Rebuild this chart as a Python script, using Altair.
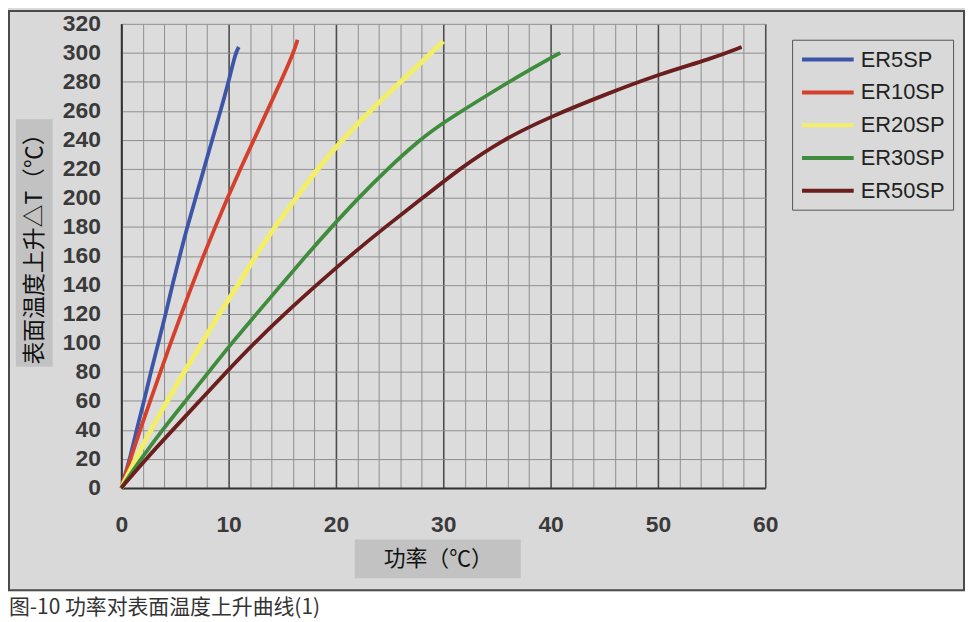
import altair as alt
import pandas as pd

# ---- data ----
series_names = ["ER5SP", "ER10SP", "ER20SP", "ER30SP", "ER50SP"]
series_colors = ["#3c55a8", "#d5402c", "#f2ee6a", "#3f8c3c", "#6b1e1e"]
series_widths = [3.8, 3.8, 5.0, 3.8, 3.8]

er5_x = [0, 0.8, 1.42, 2.13, 2.75, 3.46, 4.14, 4.76, 5.45, 6.15, 6.93, 7.7, 8.47, 9.25, 10.0, 10.64, 10.95]
er5_y = [0, 20, 40, 60, 80, 100, 120, 140, 160, 180, 200, 220, 240, 260, 280, 300, 304]

er10_x = [0, 0.85, 1.75, 2.7, 3.65, 4.6, 5.6, 6.6, 7.65, 8.75, 9.9, 11.1, 12.35, 13.6, 14.85, 16.05, 16.42]
er10_y = [0, 20, 40, 60, 80, 100, 120, 140, 160, 180, 200, 220, 240, 260, 280, 300, 309]

er20_x = [0, 1.36, 2.75, 4.3, 5.84, 7.54, 9.1, 10.9, 12.5, 14.3, 16.3, 18.4, 20.0, 22.5, 25.0, 27.5, 30.0]
er20_y = [0, 20, 40, 60, 80, 100, 120, 140, 160, 180, 200, 221, 235, 255, 273, 290, 308]

er30_x = [0, 1.83, 3.83, 6.0, 8.16, 10.3, 12.6, 14.9, 17.2, 19.6, 22.1, 24.8, 27.8, 30.0, 35.0, 37.5, 40.9]
er30_y = [0, 20, 40, 60, 80, 100, 120, 140, 160, 180, 200, 220, 240, 252, 275, 286, 300]

er50_x = [0, 2.3, 4.8, 7.3, 9.8, 12.4, 15.2, 18.2, 21.3, 24.6, 28.1, 31.5, 35.5, 40.0, 45.0, 50.0, 55.0, 57.8]
er50_y = [0, 20, 40, 60, 80, 100, 120, 140, 160, 180, 200, 220, 240, 256, 271, 285, 296, 304]

x_grid_values = list(range(0, 61, 2))
y_tick_values = list(range(0, 321, 20))

y_title = "表面温度上升△T（℃）"
x_title = "功率（℃）"
caption = "图-10 功率对表面温度上升曲线(1)"

# ---- build table ----
rows = []
for name, w, xs, ys in zip(series_names, series_widths,
                           [er5_x, er10_x, er20_x, er30_x, er50_x],
                           [er5_y, er10_y, er20_y, er30_y, er50_y]):
    for i, (xv, yv) in enumerate(zip(xs, ys)):
        rows.append({"series": name, "power": xv, "rise": yv, "order": i, "sw": w})
df = pd.DataFrame(rows)

W, H = 648, 467
BG = "#d9d9d9"
one = alt.Data(values=[{}])

# white area below the frame (caption strip)
white_strip = alt.Chart(one).mark_rect(fill="white").encode(
    x=alt.value(-120), x2=alt.value(860), y=alt.value(571), y2=alt.value(640)
)
# outer frame border
frame = alt.Chart(one).mark_rect(fillOpacity=0, stroke="#4a4a4a", strokeWidth=2).encode(
    x=alt.value(-113), x2=alt.value(848), y=alt.value(-13), y2=alt.value(570)
)
# axis-title boxes
ybox = alt.Chart(one).mark_rect(fill="#c2c2c2").encode(
    x=alt.value(-106), x2=alt.value(-69), y=alt.value(96), y2=alt.value(345)
)
xbox = alt.Chart(one).mark_rect(fill="#c2c2c2").encode(
    x=alt.value(235), x2=alt.value(402), y=alt.value(519), y2=alt.value(558)
)
ytext = alt.Chart(one).mark_text(
    text=y_title, angle=270, font="Noto Sans CJK SC", fontSize=23, color="#111",
    align="center", baseline="middle"
).encode(x=alt.value(-87), y=alt.value(221))
xtext = alt.Chart(one).mark_text(
    text=x_title, font="Noto Sans CJK SC", fontSize=22, color="#111",
    align="center", baseline="middle"
).encode(x=alt.value(319), y=alt.value(539))
cap = alt.Chart(one).mark_text(
    text=caption, font="Noto Sans CJK SC", fontSize=21, color="#333",
    align="left", baseline="middle"
).encode(x=alt.value(-113), y=alt.value(588))

lines = alt.Chart(df).mark_line(interpolate="basis").encode(
    x=alt.X("power:Q",
            scale=alt.Scale(domain=[0, 60], nice=False, zero=True),
            axis=alt.Axis(
                title=None, values=x_grid_values,
                labelExpr="datum.value % 10 === 0 ? datum.label : ''",
                labelOverlap=False, labelFlush=False, labelBound=False,
                ticks=False, labelPadding=26,
                labelFont="Liberation Sans", labelFontSize=23, labelFontWeight="bold",
                labelColor="#3a3a3a",
                domainColor="#333", domainWidth=2,
                grid=True,
                gridColor=alt.condition("datum.value % 10 === 0", alt.value("#4d4d4d"), alt.value("#8e8e8e")),
                gridWidth=alt.condition("datum.value % 10 === 0", alt.value(1.6), alt.value(1)),
            )),
    y=alt.Y("rise:Q",
            scale=alt.Scale(domain=[0, 320], nice=False, zero=True),
            axis=alt.Axis(
                title=None, values=y_tick_values,
                ticks=False, labelPadding=21,
                labelFont="Liberation Sans", labelFontSize=23, labelFontWeight="bold",
                labelColor="#3a3a3a", labelOverlap=False, labelFlush=False,
                domainColor="#333", domainWidth=2,
                grid=True, gridColor="#8e8e8e", gridWidth=1,
            )),
    color=alt.Color("series:N",
                    scale=alt.Scale(domain=series_names, range=series_colors),
                    sort=series_names,
                    legend=alt.Legend(
                        title=None, orient="none", legendX=675, legendY=16,
                        symbolType="M-1,0L4.2,0", symbolSize=400, symbolStrokeWidth=4,
                        labelFont="Liberation Sans", labelFontSize=22, labelColor="#222",
                        labelOffset=37, padding=8, rowPadding=10,
                        strokeColor="#555", fillColor=BG,
                    )),
    size=alt.Size("sw:Q", scale=None, legend=None),
    order="order:Q",
)

chart = alt.layer(white_strip, frame, ybox, xbox, ytext, xtext, cap, lines).properties(
    width=W, height=H,
    autosize="none",
    padding={"left": 114, "top": 14, "right": 201, "bottom": 133},
    background=BG,
).configure_view(stroke=None, fill="#dcdcdc")

chart.save("out.html", embed_options={"renderer": "svg", "actions": False})
